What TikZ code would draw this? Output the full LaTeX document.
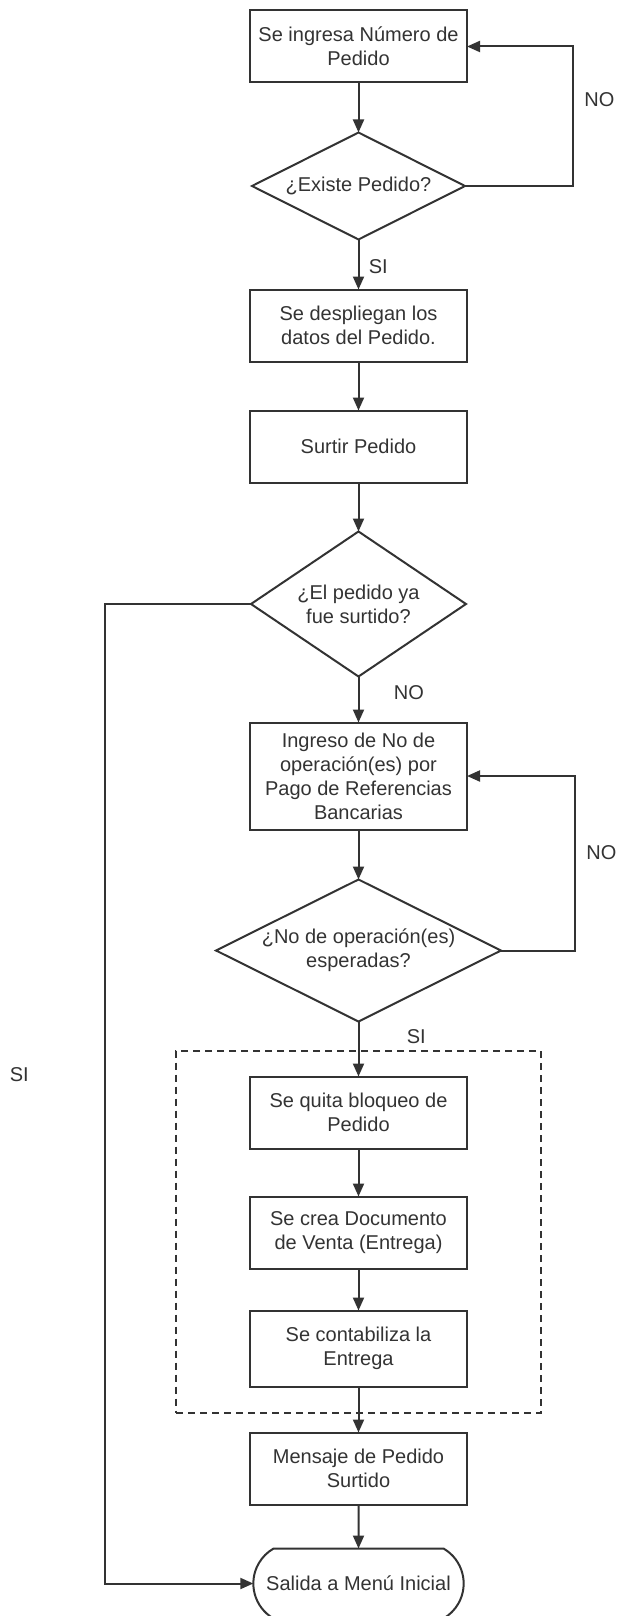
\documentclass[tikz,border=0pt]{standalone}
\usepackage{fontspec}
\setmainfont{Liberation Sans}
\usepackage{tikz}
\usetikzlibrary{shapes.geometric, shapes.misc, arrows.meta, positioning, fit}

\begin{document}
\begin{tikzpicture}[
  x=1pt, y=1pt,
  node distance=48pt,
  every node/.style={text=black!80, font=\fontsize{20}{24}\selectfont},
  process/.style={rectangle, minimum width=217pt, minimum height=72pt, outer sep=0pt,
    align=center, draw=black!80, line width=2pt},
  decision/.style={diamond, aspect=2, inner sep=0pt, outer sep=0pt, align=center,
    draw=black!80, line width=2pt},
  terminal/.style={rounded rectangle, rounded rectangle arc length=120,
    minimum width=217pt, minimum height=70pt, outer sep=0pt, align=center,
    draw=black!80, line width=2pt},
  grupo/.style={draw=black!80, line width=2pt, dash pattern=on 7pt off 5pt,
    inner xsep=74pt, inner ysep=26pt},
  arrow/.style={-{Triangle[length=13pt, width=11pt]}, draw=black!80, line width=2pt}
]
\useasboundingbox (0,0) rectangle (618,-1616);

\node (numero) [process] at (358.5,-46.5) {Se ingresa Número de\\Pedido};
\node (existe) [decision, minimum width=213pt, minimum height=107pt, below=50pt of numero] {¿Existe Pedido?};
\node (datos) [process, below=50pt of existe] {Se despliegan los\\datos del Pedido.};
\node (surtir) [process, below=49pt of datos] {Surtir Pedido};
\node (surtido) [decision, minimum width=215pt, minimum height=145pt, below=49pt of surtir] {¿El pedido ya\\fue surtido?};
\node (ingreso) [process, minimum height=107pt, below=46pt of surtido] {Ingreso de No de\\operación(es) por\\Pago de Referencias\\Bancarias};
\node (esperadas) [decision, minimum width=285pt, minimum height=142pt, below=50pt of ingreso] {¿No de operación(es)\\esperadas?};
\node (quita) [process, below=55pt of esperadas] {Se quita bloqueo de\\Pedido};
\node (crea) [process, below=of quita] {Se crea Documento\\de Venta (Entrega)};
\node (contab) [process, minimum height=76pt, below=42pt of crea] {Se contabiliza la\\Entrega};
\node (mensaje) [process, below=46pt of contab] {Mensaje de Pedido\\Surtido};
\node (salida) [terminal, below=44pt of mensaje] {Salida a Menú Inicial};

\node (bloque) [grupo, fit=(quita)(crea)(contab)] {};

\draw [arrow] (numero) -- (existe);
\draw [arrow] (existe) -- node[pos=0.55, right=6pt]{SI} (datos);
\draw [arrow] (existe.east) -- ++(108,0) |- node[pos=0.31, right=7pt]{NO} (numero.east);
\draw [arrow] (datos) -- (surtir);
\draw [arrow] (surtir) -- (surtido);
\draw [arrow] (surtido) -- node[pos=0.34, right=31pt]{NO} (ingreso);
\draw [arrow] (surtido.west) -- ++(-146,0) |- node[pos=0.24, left=72pt]{SI} (salida.west);
\draw [arrow] (ingreso) -- (esperadas);
\draw [arrow] (esperadas.east) -- ++(74,0) |- node[pos=0.28, right=7pt]{NO} (ingreso.east);
\draw [arrow] (esperadas) -- node[pos=0.27, right=44pt]{SI} (quita);
\draw [arrow] (quita) -- (crea);
\draw [arrow] (crea) -- (contab);
\draw [arrow] (contab) -- (mensaje);
\draw [arrow] (mensaje) -- (salida);

\end{tikzpicture}
\end{document}
